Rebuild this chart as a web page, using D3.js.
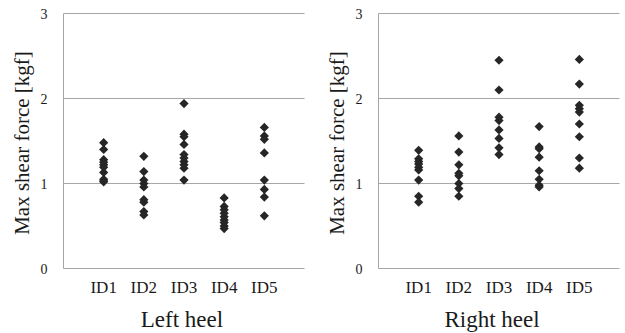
<!DOCTYPE html>
<html>
<head>
<meta charset="utf-8">
<script src="https://cdn.jsdelivr.net/npm/d3@7"></script>
<style>
  html, body { margin: 0; padding: 0; background: #fff; }
  svg { display: block; }
</style>
</head>
<body>
<svg id="chart" width="625" height="333"></svg>
<script>
// Subjects shown along the x axis of each panel
const categories = ["ID1", "ID2", "ID3", "ID4", "ID5"];
// Y-axis tick values (kgf)
const yTicks = [0, 1, 2, 3];

// Maximum shear force per trial, left heel
const leftID1 = [1.48, 1.40, 1.28, 1.25, 1.22, 1.19, 1.13, 1.05, 1.03, 1.02];
const leftID2 = [1.32, 1.14, 1.04, 1.00, 0.96, 0.81, 0.78, 0.67, 0.63];
const leftID3 = [1.94, 1.58, 1.55, 1.46, 1.34, 1.30, 1.26, 1.22, 1.18, 1.04];
const leftID4 = [0.83, 0.73, 0.69, 0.65, 0.61, 0.57, 0.54, 0.50, 0.47];
const leftID5 = [1.66, 1.56, 1.52, 1.36, 1.04, 0.93, 0.84, 0.62];

// Maximum shear force per trial, right heel
const rightID1 = [1.39, 1.29, 1.26, 1.23, 1.19, 1.16, 1.04, 0.85, 0.78];
const rightID2 = [1.56, 1.37, 1.22, 1.12, 1.09, 1.00, 0.94, 0.85];
const rightID3 = [2.45, 2.10, 1.78, 1.74, 1.63, 1.53, 1.42, 1.34];
const rightID4 = [1.67, 1.43, 1.41, 1.31, 1.15, 1.05, 0.98, 0.96];
const rightID5 = [2.46, 2.17, 1.92, 1.88, 1.84, 1.70, 1.55, 1.30, 1.18];

const panels = [
  { title: "Left heel",  series: [leftID1, leftID2, leftID3, leftID4, leftID5],
    x0: 63.5, x1: 304.5, titleX: 182 },
  { title: "Right heel", series: [rightID1, rightID2, rightID3, rightID4, rightID5],
    x0: 378.5, x1: 619.5, titleX: 492 }
];

const FONT = "'Liberation Serif', 'Times New Roman', Times, serif";
const svg = d3.select("#chart");
const yTop = 13.5, yBottom = 268.5;
const y = d3.scaleLinear().domain([0, 3]).range([yBottom, yTop]);
const gridColor = "#a6a6a6";
const textColor = "#1a1a1a";

function diamondPath(r) {
  return `M0,${-r}L${r},0L0,${r}L${-r},0Z`;
}

panels.forEach(p => {
  const g = svg.append("g");
  // categories sit at 1..5 on a 0..6 axis
  const x = d3.scaleLinear().domain([0, categories.length + 1]).range([p.x0, p.x1]);

  // horizontal gridlines
  g.selectAll(null).data(yTicks.filter(d => d > 0)).enter().append("line")
    .attr("x1", p.x0).attr("x2", p.x1)
    .attr("y1", d => y(d)).attr("y2", d => y(d))
    .attr("stroke", gridColor).attr("stroke-width", 1);

  // axis lines
  g.append("line").attr("x1", p.x0).attr("x2", p.x0)
    .attr("y1", y(3)).attr("y2", y(0))
    .attr("stroke", gridColor).attr("stroke-width", 1);
  g.append("line").attr("x1", p.x0).attr("x2", p.x1)
    .attr("y1", y(0)).attr("y2", y(0))
    .attr("stroke", gridColor).attr("stroke-width", 1);

  // y tick labels
  g.selectAll(null).data(yTicks).enter().append("text")
    .attr("x", p.x0 - 16).attr("y", d => y(d))
    .attr("dy", "0.38em")
    .attr("text-anchor", "end")
    .attr("font-family", FONT).attr("font-size", 14).attr("fill", textColor)
    .text(d => d);

  // y axis title
  g.append("text")
    .attr("transform", `translate(${p.x0 - 35},${(yTop + yBottom) / 2 + 2}) rotate(-90)`)
    .attr("text-anchor", "middle")
    .attr("font-family", FONT).attr("font-size", 21).attr("fill", textColor)
    .text("Max shear force [kgf]");

  // category labels
  g.selectAll(null).data(categories).enter().append("text")
    .attr("x", (d, i) => x(i + 1)).attr("y", 293)
    .attr("text-anchor", "middle")
    .attr("font-family", FONT).attr("font-size", 17).attr("fill", textColor)
    .text(d => d);

  // panel title
  g.append("text")
    .attr("x", p.titleX).attr("y", 327)
    .attr("text-anchor", "middle")
    .attr("font-family", FONT).attr("font-size", 23).attr("fill", textColor)
    .text(p.title);

  // data points
  p.series.forEach((vals, i) => {
    g.selectAll(null).data(vals).enter().append("path")
      .attr("d", diamondPath(4.6))
      .attr("transform", v => `translate(${x(i + 1)},${y(v)})`)
      .attr("fill", "#262626");
  });
});
</script>
</body>
</html>
